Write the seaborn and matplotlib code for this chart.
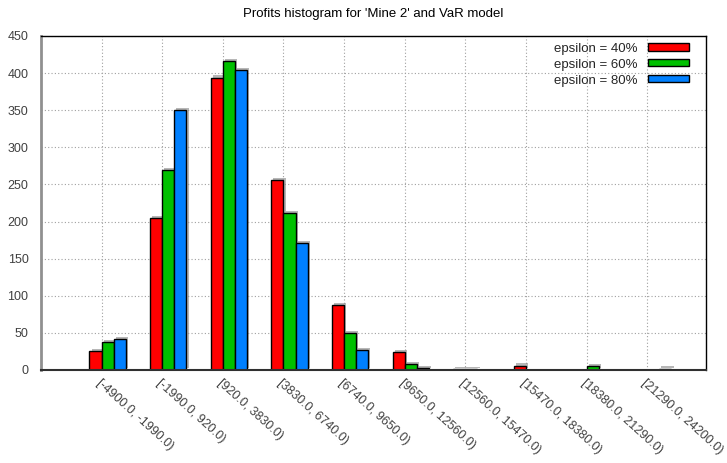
import numpy as np
import pandas as pd
import matplotlib
matplotlib.use("Agg")
import matplotlib.pyplot as plt
import matplotlib.patheffects as pe
from matplotlib.patches import Patch
import seaborn as sns

# Datos
bins = ["[-4900.0, -1990.0)", "[-1990.0, 920.0)", "[920.0, 3830.0)", "[3830.0, 6740.0)",
        "[6740.0, 9650.0)", "[9650.0, 12560.0)", "[12560.0, 15470.0)", "[15470.0, 18380.0)",
        "[18380.0, 21290.0)", "[21290.0, 24200.0)"]
series = ["epsilon = 40%", "epsilon = 60%", "epsilon = 80%"]
eps40 = [26, 205, 394, 256, 88, 24, 1, 6, 0, 0]
eps60 = [38, 270, 416, 212, 50, 8, 1, 0, 5, 0]
eps80 = [42, 350, 404, 171, 27, 3, 0, 0, 0, 2]
colors = ["#ff0000", "#00c000", "#0080ff"]
yticks = list(range(0, 451, 50))

df = pd.DataFrame({
    "bin": bins * 3,
    "serie": [s for s in series for _ in bins],
    "count": eps40 + eps60 + eps80,
})

sns.set_style("white")
plt.rcParams["font.family"] = ["Liberation Sans", "DejaVu Sans"]
text_col = "#404040"

fig = plt.figure(figsize=(7.27, 4.63), dpi=100)
ax = fig.add_axes([41 / 727, (463 - 370) / 463, (706 - 41) / 727, (370 - 36) / 463])

sns.barplot(data=df, x="bin", y="count", hue="serie", palette=colors,
            width=0.6, edgecolor="black", linewidth=1, saturation=1, ax=ax, legend=False)

shadow = [pe.SimplePatchShadow(offset=(1.5, 1.5), shadow_rgbFace="#888888", alpha=0.6), pe.Normal()]
for p in ax.patches:
    if p.get_height() == 0:
        p.set_visible(False)
    p.set_path_effects(shadow)

# eje y
ax.set_ylim(0, 450)
ax.set_yticks(yticks)
ax.set_ylabel("")
ax.set_xlabel("")

# eje x (gnuplot: tick en el borde izquierdo de la barra central)
ax.set_xlim(-1.1, 9.87)
ax.set_xticks(np.arange(len(bins)) - 0.1)
ax.set_xticklabels(bins, rotation=-42, ha="left", va="top", rotation_mode="anchor")

ax.tick_params(axis="both", direction="in", length=4, colors="#606060",
               labelcolor=text_col, labelsize=9, top=False, right=False)
ax.tick_params(axis="x", pad=5)
ax.tick_params(axis="y", pad=9)
ax.grid(True, linestyle=(0, (1, 2)), color="#a0a0a0", linewidth=0.8)
ax.set_axisbelow(True)

for side in ["top", "right"]:
    ax.spines[side].set_color("black")
    ax.spines[side].set_linewidth(1)
ax.spines["left"].set_color("#909090")
ax.spines["left"].set_linewidth(2)
ax.spines["bottom"].set_color("#303030")
ax.spines["bottom"].set_linewidth(1.5)

ax.set_title("Profits histogram for 'Mine 2' and VaR model", fontsize=9.5,
             color="black", pad=14)

handles = [Patch(facecolor=c, edgecolor="black", linewidth=1) for c in colors]
leg = ax.legend(handles, series, loc="upper right", bbox_to_anchor=(0.974, 0.98),
                frameon=False, markerfirst=False, fontsize=9.5,
                handlelength=3.1, handleheight=0.45, labelspacing=0.3,
                borderaxespad=0, borderpad=0, handletextpad=0.8)

fig.savefig("out.png", dpi=100)
